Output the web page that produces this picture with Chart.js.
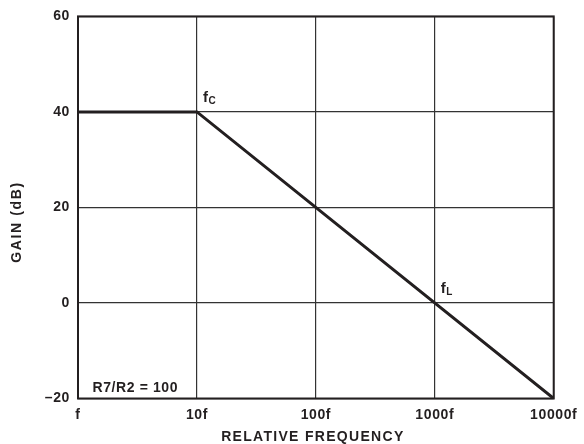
<!DOCTYPE html>
<html>
<head>
<meta charset="utf-8">
<script src="https://cdn.jsdelivr.net/npm/chart.js@4.4.0/dist/chart.umd.min.js"></script>
<style>
html,body{margin:0;padding:0;background:#fff;}
#wrap{width:584px;height:444px;}
</style>
</head>
<body>
<div id="wrap"><canvas id="c" width="584" height="444"></canvas></div>
<script>
const freqs = [1, 10, 10000];
const gains = [40, 40, -20];
const xTicks = [1, 10, 100, 1000, 10000];
const xTickLabels = ['f', '10f', '100f', '1000f', '10000f'];
const yTicks = [-20, 0, 20, 40, 60];
const annotations = [
  {x: 10, y: 40, main: 'f', sub: 'C'},
  {x: 1000, y: 0, main: 'f', sub: 'L'}
];
const noteText = 'R7/R2 = 100';
const xTitle = 'RELATIVE FREQUENCY';
const yTitle = 'GAIN (dB)';

const FONT = 'Liberation Sans, Arial, Helvetica, sans-serif';
const INK = '#231f20';

const spacing = {
  id: 'spacing',
  beforeDraw(chart) { chart.ctx.letterSpacing = '0.6px'; }
};

const overlay = {
  id: 'overlay',
  afterDraw(chart) {
    const ctx = chart.ctx;
    const xs = chart.scales.x, ys = chart.scales.y;
    const a = chart.chartArea;
    ctx.save();
    // frame
    ctx.strokeStyle = INK;
    ctx.lineWidth = 2;
    ctx.strokeRect(a.left, a.top, a.right - a.left, a.bottom - a.top);
    ctx.fillStyle = INK;
    ctx.letterSpacing = '0px';
    // annotations
    annotations.forEach(an => {
      const px = xs.getPixelForValue(an.x);
      const py = ys.getPixelForValue(an.y);
      ctx.font = 'bold 15px ' + FONT;
      ctx.textAlign = 'left';
      ctx.textBaseline = 'alphabetic';
      const x0 = px + 6, y0 = py - 10;
      ctx.fillText(an.main, x0, y0);
      const w = ctx.measureText(an.main).width;
      ctx.font = 'bold 10px ' + FONT;
      ctx.fillText(an.sub, x0 + w + 0.5, y0 + 2.5);
    });
    // note
    ctx.letterSpacing = '0.6px';
    ctx.font = 'bold 14px ' + FONT;
    ctx.textAlign = 'left';
    ctx.fillText(noteText, a.left + 14.5, a.bottom - 7);
    // x title
    ctx.letterSpacing = '1.3px';
    ctx.textAlign = 'center';
    ctx.fillText(xTitle, (a.left + a.right) / 2 - 3, 441);
    // y title
    ctx.translate(20.5, chart.height / 2);
    ctx.rotate(-Math.PI / 2);
    ctx.textAlign = 'center';
    ctx.textBaseline = 'alphabetic';
    ctx.letterSpacing = '1.6px';
    ctx.font = 'bold 14px ' + FONT;
    ctx.fillText(yTitle, 0, 0);
    ctx.restore();
  }
};

new Chart(document.getElementById('c'), {
  type: 'line',
  data: {
    datasets: [{
      data: freqs.map((f, i) => ({x: f, y: gains[i]})),
      borderColor: INK,
      borderWidth: 3,
      pointRadius: 0,
      tension: 0,
      fill: false
    }]
  },
  options: {
    responsive: false,
    animation: false,
    devicePixelRatio: 1,
    layout: {padding: {left: 0, right: 27, top: 16, bottom: 0}},
    plugins: {legend: {display: false}, tooltip: {enabled: false}},
    scales: {
      x: {
        type: 'logarithmic',
        min: 1, max: 10000,
        afterBuildTicks(s) { s.ticks = xTicks.map(v => ({value: v})); },
        afterFit(s) { s.height = 45.5; },
        ticks: {
          autoSkip: false, maxRotation: 0,
          color: INK, padding: 8.5,
          font: {family: FONT, size: 14, weight: 'bold'},
          callback(v) { const i = xTicks.indexOf(v); return i >= 0 ? xTickLabels[i] : ''; }
        },
        grid: {color: '#333', lineWidth: 1.2, drawTicks: false},
        border: {display: false}
      },
      y: {
        min: -20, max: 60,
        afterBuildTicks(s) { s.ticks = yTicks.map(v => ({value: v})); },
        afterFit(s) { s.width = 78; },
        ticks: {
          color: INK, padding: 8,
          font: {family: FONT, size: 14, weight: 'bold'},
          callback(v) { return v < 0 ? '\u2013' + Math.abs(v) : String(v); }
        },
        grid: {color: '#333', lineWidth: 1.2, drawTicks: false},
        border: {display: false}
      }
    }
  },
  plugins: [spacing, overlay]
});
</script>
</body>
</html>
